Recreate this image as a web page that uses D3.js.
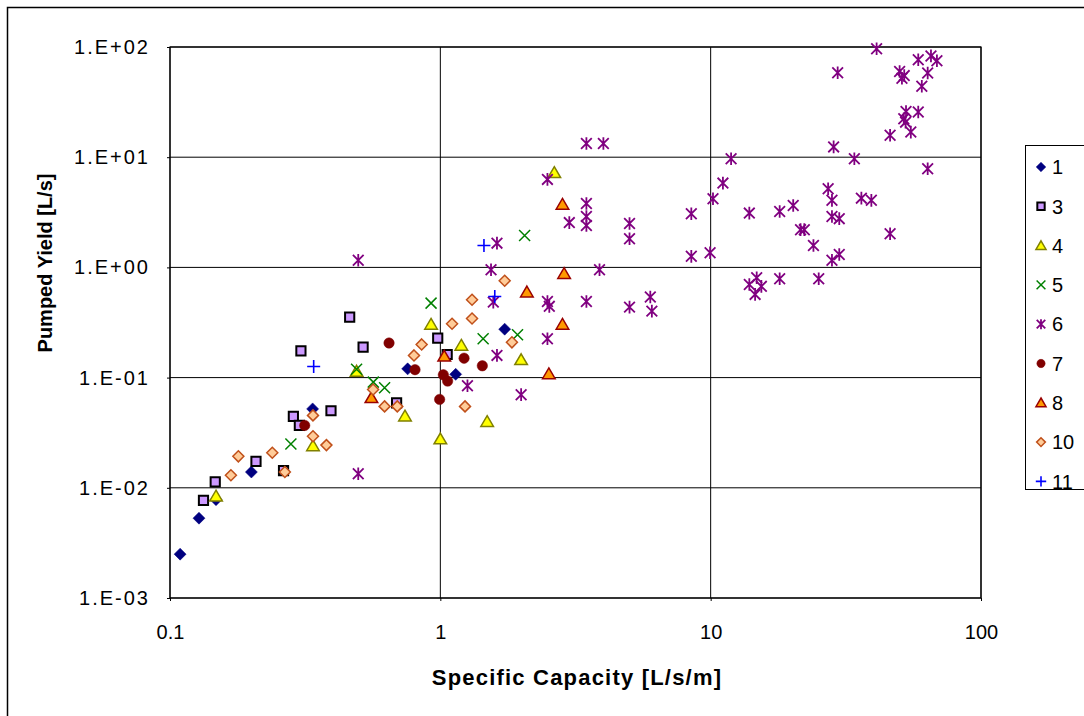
<!DOCTYPE html>
<html>
<head>
<meta charset="utf-8">
<script src="https://cdn.jsdelivr.net/npm/d3@7"></script>
<style>
  body { margin: 0; background: #fff; }
  text { font-family: "Liberation Sans", Arial, sans-serif; }
</style>
</head>
<body>
<svg id="chart" width="1084" height="716"></svg>
<script>
// series data: [specific capacity, pumped yield]
var s1 = [[0.109,0.0025],[0.128,0.0053],[0.148,0.0078],[0.2,0.0139],[0.337,0.052],[0.757,0.12],[1.14,0.107],[1.73,0.275]];
var s3 = [[0.133,0.0077],[0.147,0.0113],[0.208,0.0174],[0.263,0.0143],[0.286,0.0445],[0.301,0.0368],[0.305,0.175],[0.394,0.05],[0.462,0.354],[0.518,0.189],[0.689,0.059],[0.978,0.228],[1.06,0.162]];
var s4 = [[0.148,0.0084],[0.338,0.024],[0.49,0.114],[0.74,0.0447],[0.924,0.304],[1.0,0.0277],[1.196,0.196],[1.49,0.0398],[1.99,0.145],[2.64,7.23]];
var s5 = [[0.28,0.025],[0.49,0.119],[0.565,0.091],[0.622,0.081],[0.924,0.474],[1.44,0.225],[1.93,0.245],[2.05,1.95]];
var s6 = [[0.497,0.0134],[0.497,1.16],[1.26,0.0844],[1.54,0.953],[1.57,0.484],[1.62,1.66],[1.62,0.159],[1.99,0.07],
  [2.49,0.491],[2.53,0.443],[2.49,0.225],[2.49,6.29],[3.0,2.55],[3.47,3.8],[3.47,2.9],[3.47,2.4],[3.47,13.3],[4.01,13.3],
  [3.47,0.491],[3.88,0.953],[5.01,2.5],[5.01,1.82],[5.01,0.436],[5.98,0.538],[6.06,0.401],[8.48,3.07],[8.48,1.26],
  [9.95,1.36],[10.2,4.2],[11.1,5.82],[11.9,9.69],[13.9,3.11],[13.9,0.7],[14.8,0.806],[15.4,0.673],[14.6,0.569],
  [18.0,3.22],[18.0,0.79],[20.2,3.65],[21.5,2.2],[22.2,2.2],[24.0,1.58],[25.1,0.79],[27.2,5.18],[28.1,4.06],[28.1,2.9],
  [29.9,2.77],[28.1,1.16],[29.9,1.31],[28.5,12.4],[29.5,58.4],[34.0,9.69],[36.1,4.25],[39.3,4.06],[41.1,96.4],
  [46.1,15.8],[46.1,2.02],[50,60],[52,55],[51,52],[52.8,26],[51.8,22.3],[52.6,20.8],[55,16.9],[58.6,25.7],[58.6,76.7],
  [60.4,44],[63.5,58],[63.5,7.86],[65.3,83],[68.7,75]];
var s7 = [[0.315,0.0368],[0.646,0.206],[0.806,0.118],[0.994,0.0634],[1.026,0.106],[1.064,0.093],[1.224,0.15],[1.43,0.128]];
var s8 = [[0.556,0.0656],[1.034,0.156],[2.09,0.597],[2.52,0.108],[2.83,0.304],[2.83,3.73],[2.87,0.877]];
var s10 = [[0.168,0.013],[0.179,0.0193],[0.239,0.0208],[0.266,0.0139],[0.338,0.0454],[0.338,0.0294],[0.379,0.0244],
  [0.564,0.078],[0.622,0.0548],[0.693,0.0548],[0.799,0.159],[0.853,0.2],[1.105,0.308],[1.234,0.0548],[1.31,0.509],
  [1.31,0.344],[1.73,0.757],[1.84,0.209]];
var s11 = [[0.34,0.126],[1.45,1.58],[1.59,0.545]];

var seriesNames = ["1","3","4","5","6","7","8","10","11"];
var xTicks = [0.1, 1, 10, 100];
var yTicks = [0.001, 0.01, 0.1, 1, 10, 100];
var yTickLabels = ["1.E-03","1.E-02","1.E-01","1.E+00","1.E+01","1.E+02"];

var svg = d3.select("#chart");

// outer frame
svg.append("rect").attr("x",7.5).attr("y",7.5).attr("width",1100).attr("height",730)
  .attr("fill","none").attr("stroke","#000").attr("stroke-width",1.5);

var x = d3.scaleLog().domain([0.1,100]).range([170,981]);
var y = d3.scaleLog().domain([0.001,100]).range([598,47]);

// gridlines
svg.append("g").selectAll("line").data(xTicks).join("line")
  .attr("x1",d=>x(d)).attr("x2",d=>x(d)).attr("y1",y(100)).attr("y2",y(0.001))
  .attr("stroke","#000").attr("stroke-width",1);
svg.append("g").selectAll("line").data(yTicks).join("line")
  .attr("x1",x(0.1)).attr("x2",x(100)).attr("y1",d=>y(d)).attr("y2",d=>y(d))
  .attr("stroke","#000").attr("stroke-width",1);
svg.append("rect").attr("x",x(0.1)).attr("y",y(100)).attr("width",x(100)-x(0.1)).attr("height",y(0.001)-y(100))
  .attr("fill","none").attr("stroke","#000").attr("stroke-width",1.2);

// axes
var xAxis = svg.append("g").attr("transform","translate(0,"+y(0.001)+")")
  .call(d3.axisBottom(x).tickValues(xTicks).tickSize(3).tickFormat(d3.format("~g")));
xAxis.select(".domain").remove();
xAxis.selectAll("text").attr("font-size","20px").attr("y",27).attr("dy","0.71em").attr("fill","#000")
  .attr("font-family","'Liberation Sans Narrow', 'Liberation Sans', sans-serif");

var yAxis = svg.append("g").attr("transform","translate("+x(0.1)+",0)")
  .call(d3.axisLeft(y).tickValues(yTicks).tickSize(3).tickFormat((d,i)=>yTickLabels[i]));
yAxis.select(".domain").remove();
yAxis.selectAll("text").attr("font-size","20px").attr("x",-20).attr("fill","#000")
  .attr("letter-spacing","2px");

// axis titles
svg.append("text").attr("x",577).attr("y",685).attr("text-anchor","middle")
  .attr("font-weight","bold").attr("font-size","22px").attr("letter-spacing","1.2px")
  .text("Specific Capacity [L/s/m]");
svg.append("text").attr("transform","translate(52,263) rotate(-90)").attr("text-anchor","middle")
  .attr("font-weight","bold").attr("font-size","20px").text("Pumped Yield [L/s]");

// marker drawers
function xPath(r){ return "M"+(-r)+","+(-r)+"L"+r+","+r+"M"+(-r)+","+r+"L"+r+","+(-r); }
function plusPath(r){ return "M"+(-r)+",0L"+r+",0M0,"+(-r)+"L0,"+r; }
function starPath(r){ return xPath(r*0.85)+"M0,"+(-r)+"L0,"+r; }
function diamondPath(r){ return "M0,"+(-r)+"L"+r+",0L0,"+r+"L"+(-r)+",0Z"; }
function squarePath(r){ return "M"+(-r)+","+(-r)+"H"+r+"V"+r+"H"+(-r)+"Z"; }
function triPath(r){ return "M0,"+(-r)+"L"+(r*1.05)+","+(r*0.8)+"L"+(-r*1.05)+","+(r*0.8)+"Z"; }

var styles = [
  {data:s1, d:diamondPath(6), fill:"#000080", stroke:"#000080", sw:0.5},
  {data:s3, d:squarePath(4.6), fill:"#CC99FF", stroke:"#000", sw:2},
  {data:s4, d:triPath(6), fill:"#FFFF00", stroke:"#808000", sw:1.5},
  {data:s5, d:xPath(5.5), fill:"none", stroke:"#008000", sw:1.5},
  {data:s6, d:starPath(6.3), fill:"none", stroke:"#800080", sw:1.8},
  {data:s7, d:d3.symbol(d3.symbolCircle,85)(), fill:"#800000", stroke:"#800000", sw:0.5},
  {data:s8, d:triPath(6), fill:"#FF9900", stroke:"#990000", sw:1.5},
  {data:s10, d:diamondPath(5.5), fill:"#FFCC99", stroke:"#C0501A", sw:1.5},
  {data:s11, d:plusPath(6.5), fill:"none", stroke:"#0000FF", sw:1.6}
];

styles.forEach(function(s){
  svg.append("g").selectAll("path").data(s.data).join("path")
    .attr("transform",d=>"translate("+x(d[0])+","+y(d[1])+")")
    .attr("d",s.d).attr("fill",s.fill).attr("stroke",s.stroke).attr("stroke-width",s.sw);
});

// legend
var lg = svg.append("g").attr("transform","translate(1025,145)");
lg.append("rect").attr("x",0.5).attr("y",0.5).attr("width",90).attr("height",344)
  .attr("fill","#fff").attr("stroke","#000").attr("stroke-width",1);
styles.forEach(function(s,i){
  var cy = 22 + i*39.3;
  lg.append("path").attr("transform","translate(16,"+cy+") scale(0.8)")
    .attr("d",s.d).attr("fill",s.fill).attr("stroke",s.stroke).attr("stroke-width",s.sw/0.8);
  lg.append("text").attr("x",27).attr("y",cy).attr("dy","0.36em").attr("font-size","20px")
    .text(seriesNames[i]);
});
</script>
</body>
</html>
